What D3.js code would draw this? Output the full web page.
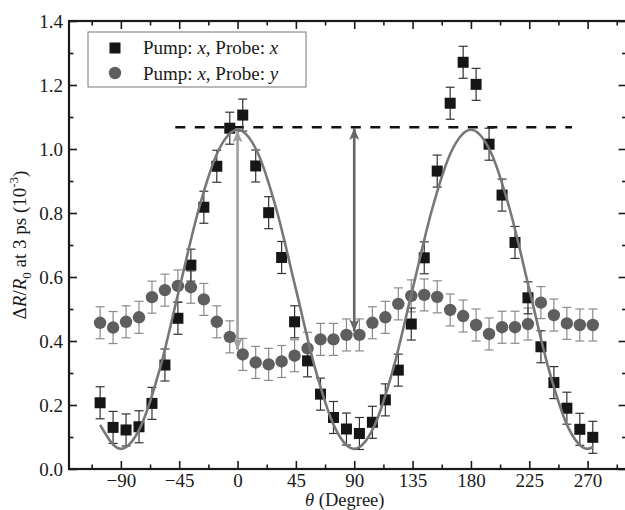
<!DOCTYPE html>
<html>
<head>
<meta charset="utf-8">
<script src="https://cdn.jsdelivr.net/npm/d3@7"></script>
<style>
    html, body { margin: 0; padding: 0; background: #fff; }
    svg { display: block; font-family: "Liberation Serif", "Times New Roman", serif; }
    .tick line { stroke: #1a1a1a; stroke-width: 1.6; }
</style>
</head>
<body>
<div class="chart-container"></div>
<script>
// Angle of each measurement (degrees)
const theta = [-106, -96, -86, -76, -66, -56, -46, -36, -26, -16, -6, 4, 14, 24, 34, 44, 54, 64, 74, 84,
    94, 104, 114, 124, 134, 144, 154, 164, 174, 184, 194, 204, 214, 224, 234, 244, 254, 264, 274];

// Pump: x, Probe: x  (squares)
const probeX = [0.207, 0.130, 0.122, 0.132, 0.205, 0.325, 0.471, 0.637, 0.818, 0.946, 1.065, 1.106, 0.947,
    0.801, 0.661, 0.460, 0.338, 0.234, 0.161, 0.125, 0.111, 0.146, 0.216, 0.309, 0.453, 0.660, 0.931,
    1.143, 1.271, 1.202, 1.015, 0.856, 0.708, 0.535, 0.382, 0.270, 0.190, 0.124, 0.099];

// Pump: x, Probe: y  (circles)
const probeY = [0.457, 0.442, 0.460, 0.474, 0.537, 0.559, 0.572, 0.568, 0.530, 0.460, 0.413, 0.358, 0.333,
    0.327, 0.336, 0.354, 0.377, 0.405, 0.405, 0.419, 0.419, 0.457, 0.474, 0.516, 0.541, 0.544, 0.538,
    0.497, 0.478, 0.450, 0.422, 0.443, 0.443, 0.453, 0.520, 0.481, 0.455, 0.450, 0.450];

// error bar half-height (same for every point)
const errBar = 0.05;

// fitted curve
const fitTheta = [-106, -90, -75, -60, -45, -30, -15, 0, 15, 30, 45, 60, 75, 90, 105, 120, 135, 150,
    165, 180, 195, 210, 225, 240, 255, 270, 274];
const fitValue = [0.138, 0.063, 0.130, 0.312, 0.562, 0.811, 0.993, 1.060, 0.993, 0.811, 0.562, 0.312,
    0.130, 0.063, 0.130, 0.312, 0.562, 0.811, 0.993, 1.060, 0.993, 0.811, 0.562, 0.312, 0.130, 0.063, 0.068];

// dashed reference level and the two arrows
const dashLevel = 1.068;
const dashRange = [-48, 258];
const arrowTheta = [0, 90];
const arrowLow = [0.372, 0.430];
const arrowHigh = [1.058, 1.066];

// axis ticks
const xMajor = [-90, -45, 0, 45, 90, 135, 180, 225, 270];
const xMinor = [-112.5, -67.5, -22.5, 22.5, 67.5, 112.5, 157.5, 202.5, 247.5, 292.5];
const yMajor = [0, 0.2, 0.4, 0.6, 0.8, 1.0, 1.2, 1.4];
const yMinor = [0.1, 0.3, 0.5, 0.7, 0.9, 1.1, 1.3];

const legendLabels = ["Probe: ", "Probe: "];
const legendItalic = ["x", "y"];

const W = 625, H = 510;
const plot = { left: 69, right: 626.5, top: 21, bottom: 469 };
const serif = '"Liberation Serif", "Times New Roman", serif';

const svg = d3.select('.chart-container')
    .append('svg')
    .attr('width', W)
    .attr('height', H);

const x = d3.scaleLinear().domain([-130, 300]).range([plot.left, plot.right]);
const y = d3.scaleLinear().domain([0, 1.4]).range([plot.bottom, plot.top]);

// Axes: ticks point inward on all four sides
function addAxis(axis, tx, ty) {
    const g = svg.append('g')
        .attr('transform', `translate(${tx},${ty})`)
        .call(axis);
    g.select('.domain').remove();
    g.selectAll('.tick text')
        .attr('font-family', serif)
        .attr('font-size', 19)
        .attr('fill', '#1a1a1a');
    return g;
}

addAxis(d3.axisBottom(x).tickValues(xMajor).tickSizeInner(-8).tickSizeOuter(0).tickPadding(4.5)
    .tickFormat(d3.format('d')), 0, plot.bottom);
addAxis(d3.axisBottom(x).tickValues(xMinor).tickSizeInner(-4.5).tickSizeOuter(0).tickFormat(''), 0, plot.bottom);
addAxis(d3.axisTop(x).tickValues(xMajor).tickSizeInner(-8).tickSizeOuter(0).tickFormat(''), 0, plot.top);
addAxis(d3.axisTop(x).tickValues(xMinor).tickSizeInner(-4.5).tickSizeOuter(0).tickFormat(''), 0, plot.top);

addAxis(d3.axisLeft(y).tickValues(yMajor).tickSizeInner(-8).tickSizeOuter(0).tickPadding(6)
    .tickFormat(d3.format('.1f')), plot.left, 0);
addAxis(d3.axisLeft(y).tickValues(yMinor).tickSizeInner(-4.5).tickSizeOuter(0).tickFormat(''), plot.left, 0);
addAxis(d3.axisRight(y).tickValues(yMajor).tickSizeInner(-8).tickSizeOuter(0).tickFormat(''), plot.right, 0);
addAxis(d3.axisRight(y).tickValues(yMinor).tickSizeInner(-4.5).tickSizeOuter(0).tickFormat(''), plot.right, 0);

// frame
svg.append('rect')
    .attr('x', plot.left)
    .attr('y', plot.top)
    .attr('width', plot.right - plot.left)
    .attr('height', plot.bottom - plot.top)
    .attr('fill', 'none')
    .attr('stroke', '#1a1a1a')
    .attr('stroke-width', 2.2);

// dashed level line
svg.append('line')
    .attr('x1', x(dashRange[0]))
    .attr('x2', x(dashRange[1]))
    .attr('y1', y(dashLevel))
    .attr('y2', y(dashLevel))
    .attr('stroke', '#111')
    .attr('stroke-width', 2.5)
    .attr('stroke-dasharray', '10,9.5');

// arrows
const arrowColors = ['#a0a0a0', '#666'];
const defs = svg.append('defs');
arrowColors.forEach((c, i) => {
    defs.append('marker')
        .attr('id', 'head' + i)
        .attr('viewBox', '0 0 12 10')
        .attr('refX', 12)
        .attr('refY', 5)
        .attr('markerWidth', 12)
        .attr('markerHeight', 10)
        .attr('markerUnits', 'userSpaceOnUse')
        .attr('orient', 'auto-start-reverse')
        .append('path')
        .attr('d', 'M0,0 L12,5 L0,10 L3,5 Z')
        .attr('fill', c);
});

arrowTheta.forEach((t, i) => {
    svg.append('line')
        .attr('x1', x(t))
        .attr('x2', x(t))
        .attr('y1', y(arrowLow[i]))
        .attr('y2', y(arrowHigh[i]))
        .attr('stroke', arrowColors[i])
        .attr('stroke-width', 2.6)
        .attr('marker-start', `url(#head${i})`)
        .attr('marker-end', `url(#head${i})`);
});

// error bars
const capW = 4.5;
function errorBars(values, color) {
    const g = svg.append('g').attr('stroke', color).attr('stroke-width', 1.2).attr('fill', 'none');
    values.forEach((v, i) => {
        const cx = x(theta[i]);
        const top = y(v + errBar), bot = y(v - errBar);
        g.append('line').attr('x1', cx).attr('x2', cx).attr('y1', top).attr('y2', bot);
        g.append('line').attr('x1', cx - capW).attr('x2', cx + capW).attr('y1', top).attr('y2', top);
        g.append('line').attr('x1', cx - capW).attr('x2', cx + capW).attr('y1', bot).attr('y2', bot);
    });
}
errorBars(probeY, '#8a8a8a');
errorBars(probeX, '#333');

// circles (Probe: y)
svg.append('g')
    .selectAll('circle')
    .data(probeY)
    .enter()
    .append('circle')
    .attr('cx', (d, i) => x(theta[i]))
    .attr('cy', d => y(d))
    .attr('r', 6.2)
    .attr('fill', '#5e5e5e');

// squares (Probe: x)
const sq = 11;
svg.append('g')
    .selectAll('rect')
    .data(probeX)
    .enter()
    .append('rect')
    .attr('x', (d, i) => x(theta[i]) - sq / 2)
    .attr('y', d => y(d) - sq / 2)
    .attr('width', sq)
    .attr('height', sq)
    .attr('fill', '#161616');

// fitted curve
const fitLine = d3.line()
    .x((d, i) => x(fitTheta[i]))
    .y(d => y(d))
    .curve(d3.curveMonotoneX);

svg.append('path')
    .datum(fitValue)
    .attr('d', fitLine)
    .attr('fill', 'none')
    .attr('stroke', '#777')
    .attr('stroke-width', 2.6);

// legend
svg.append('rect')
    .attr('x', 88)
    .attr('y', 32)
    .attr('width', 218)
    .attr('height', 55)
    .attr('fill', '#fff')
    .attr('stroke', '#777')
    .attr('stroke-width', 1);

svg.append('rect')
    .attr('x', 115 - sq / 2)
    .attr('y', 48 - sq / 2)
    .attr('width', sq)
    .attr('height', sq)
    .attr('fill', '#161616');

svg.append('circle')
    .attr('cx', 115)
    .attr('cy', 73)
    .attr('r', 6.2)
    .attr('fill', '#5e5e5e');

legendLabels.forEach((lab, i) => {
    const t = svg.append('text')
        .attr('x', 143)
        .attr('y', 54 + i * 25.5)
        .attr('font-size', 19)
        .attr('fill', '#1a1a1a');
    t.append('tspan').text('Pump: ');
    t.append('tspan').attr('font-style', 'italic').text('x');
    t.append('tspan').text(', ' + lab);
    t.append('tspan').attr('font-style', 'italic').text(legendItalic[i]);
});

// y axis title
const yt = svg.append('text')
    .attr('transform', `translate(26,${(plot.top + plot.bottom) / 2}) rotate(-90)`)
    .attr('text-anchor', 'middle')
    .attr('font-size', 19)
    .attr('fill', '#1a1a1a');
yt.append('tspan').text('\u0394');
yt.append('tspan').attr('font-style', 'italic').text('R');
yt.append('tspan').text('/');
yt.append('tspan').attr('font-style', 'italic').text('R');
yt.append('tspan').attr('font-size', 13).attr('dy', 5).text('0');
yt.append('tspan').attr('dy', -5).text(' at 3 ps (10');
yt.append('tspan').attr('font-size', 13).attr('dy', -8).text('-3');
yt.append('tspan').attr('dy', 8).text(')');

// x axis title
const xt = svg.append('text')
    .attr('x', (plot.left + plot.right) / 2 - 3)
    .attr('y', 506)
    .attr('text-anchor', 'middle')
    .attr('font-size', 18.5)
    .attr('fill', '#1a1a1a');
xt.append('tspan').attr('font-style', 'italic').text('\u03B8');
xt.append('tspan').text(' (Degree)');
</script>
</body>
</html>
